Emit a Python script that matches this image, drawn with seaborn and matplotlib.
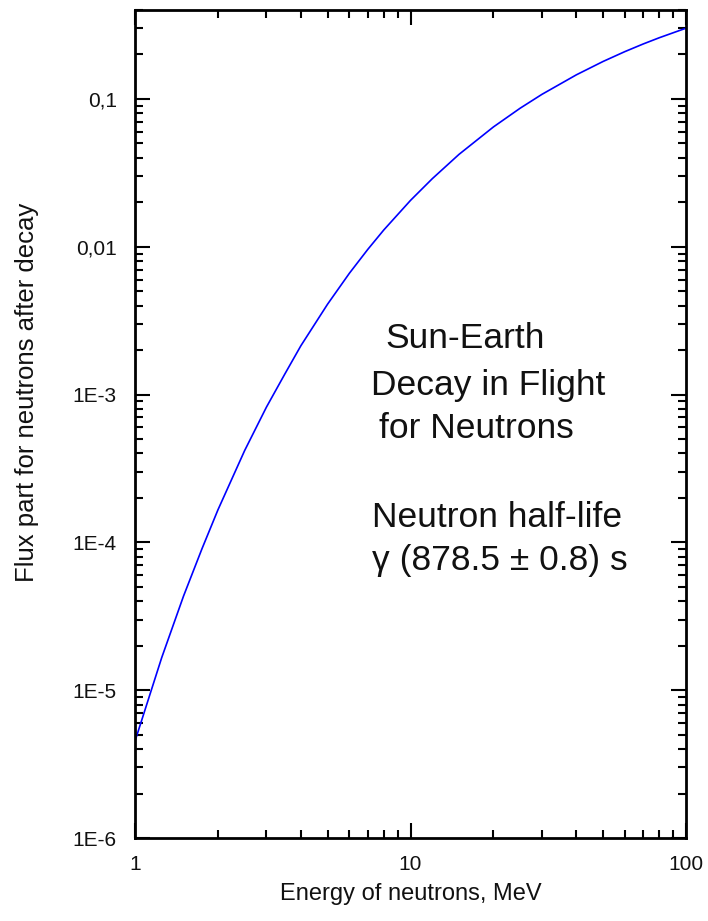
import matplotlib
matplotlib.use("Agg")
import matplotlib.pyplot as plt
from matplotlib.ticker import LogLocator, FixedLocator, FixedFormatter, NullFormatter
import seaborn as sns
import pandas as pd

# Neutron energy (MeV) and surviving flux fraction after Sun-Earth flight
energy_mev = [1, 1.25, 1.5, 1.75, 2, 2.5, 3, 3.5, 4, 5, 6, 7, 8, 10, 12, 15,
              20, 25, 30, 40, 50, 60, 70, 80, 100]
flux_part = [4.52e-6, 1.66e-5, 4.33e-5, 9.05e-5, 1.66e-4, 4.18e-4, 8.23e-4,
             1.38e-3, 2.14e-3, 4.09e-3, 6.62e-3, 9.61e-3, 1.30e-2, 2.06e-2,
             2.89e-2, 4.22e-2, 6.47e-2, 8.66e-2, 0.1075, 0.1457, 0.1794,
             0.2092, 0.2358, 0.2597, 0.3013]

y_ticks = [1e-6, 1e-5, 1e-4, 1e-3, 1e-2, 1e-1]
y_tick_labels = ["1E-6", "1E-5", "1E-4", "1E-3", "0,01", "0,1"]
x_ticks = [1, 10, 100]
x_tick_labels = ["1", "10", "100"]

annotation_lines = [
    ("Sun-Earth", 385, 338),
    ("Decay in Flight", 371, 385),
    ("for Neutrons", 379, 428),
    ("Neutron half-life", 372, 517),
    ("\u03b3 (878.5 \u00b1 0.8) s", 372, 560),
]

sns.set_theme(style="ticks")
plt.rcParams["font.family"] = ["Liberation Sans", "DejaVu Sans"]

W, H = 708, 921
fig = plt.figure(figsize=(W / 100, H / 100), dpi=100)
ax = fig.add_axes([135 / W, (H - 838) / H, (686 - 135) / W, (838 - 10) / H])

df = pd.DataFrame({"energy": energy_mev, "flux": flux_part})
sns.lineplot(data=df, x="energy", y="flux", ax=ax, color="#0000ff",
             linewidth=1.2, estimator=None)

ax.set_xscale("log")
ax.set_yscale("log")
ax.set_xlim(1, 100)
ax.set_ylim(1e-6, 0.4)

ax.xaxis.set_major_locator(FixedLocator(x_ticks))
ax.xaxis.set_major_formatter(FixedFormatter(x_tick_labels))
ax.yaxis.set_major_locator(FixedLocator(y_ticks))
ax.yaxis.set_major_formatter(FixedFormatter(y_tick_labels))
ax.xaxis.set_minor_locator(LogLocator(base=10, subs=range(2, 10)))
ax.yaxis.set_minor_locator(LogLocator(base=10, subs=range(2, 10)))
ax.xaxis.set_minor_formatter(NullFormatter())
ax.yaxis.set_minor_formatter(NullFormatter())

ax.tick_params(which="both", direction="in", top=True, right=True,
               color="black", width=1.5)
ax.tick_params(which="major", length=11, labelsize=15, labelcolor="#111111")
ax.tick_params(axis="y", which="major", pad=13)
ax.tick_params(axis="x", which="major", pad=12)
ax.tick_params(which="minor", length=6)
for side in ax.spines.values():
    side.set_linewidth(2)
    side.set_color("black")

ax.set_xlabel("Energy of neutrons, MeV", fontsize=17, color="#111111")
ax.set_ylabel("Flux part for neutrons after decay", fontsize=18.5,
              color="#111111")
# label centres in figure pixels
ax.xaxis.set_label_coords(411 / W, 1 - 894 / H, transform=fig.transFigure)
ax.yaxis.set_label_coords(27 / W, 1 - 392 / H, transform=fig.transFigure)
ax.xaxis.label.set_va("center")
ax.yaxis.label.set_va("center")

for text, px, py in annotation_lines:
    fig.text(px / W, 1 - py / H, text, fontsize=25.5, ha="left", va="center",
             color="#111111")

fig.savefig("out.png", dpi=100)
